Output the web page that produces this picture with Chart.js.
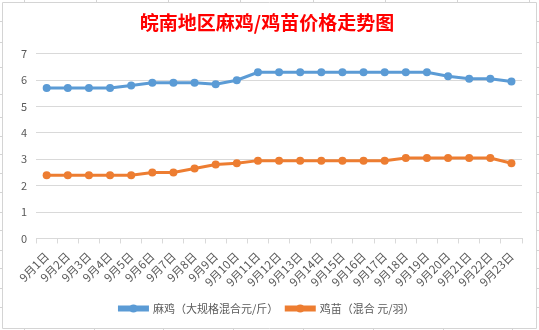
<!DOCTYPE html>
<html>
<head>
<meta charset="utf-8">
<script src="https://cdn.jsdelivr.net/npm/chart.js@4/dist/chart.umd.min.js"></script>
<style>
  html, body { margin: 0; padding: 0; background: #fff; }
  #wrap { width: 539px; height: 330px; position: relative; }
</style>
</head>
<body>
<div id="wrap"><canvas id="myChart" width="539" height="330"></canvas></div>
<script>
var days = ["9月1日", "9月2日", "9月3日", "9月4日", "9月5日", "9月6日", "9月7日", "9月8日",
  "9月9日", "9月10日", "9月11日", "9月12日", "9月13日", "9月14日", "9月15日", "9月16日",
  "9月17日", "9月18日", "9月19日", "9月20日", "9月21日", "9月22日", "9月23日"];
var maji = [5.7, 5.7, 5.7, 5.7, 5.8, 5.9, 5.9, 5.9, 5.85, 6.0, 6.3, 6.3, 6.3, 6.3, 6.3, 6.3,
  6.3, 6.3, 6.3, 6.15, 6.05, 6.05, 5.95];
var jimiao = [2.4, 2.4, 2.4, 2.4, 2.4, 2.5, 2.5, 2.65, 2.8, 2.85, 2.95, 2.95, 2.95, 2.95, 2.95,
  2.95, 2.95, 3.05, 3.05, 3.05, 3.05, 3.05, 2.85];
var yTicks = [0, 1, 2, 3, 4, 5, 6, 7];

var font = "'Noto Sans CJK SC', 'Microsoft YaHei', sans-serif";
var gray = "#595959";

// excel sheet cell borders around the chart
var sheetFrame = {
  id: "sheetFrame",
  afterDraw: function (chart) {
    var c = chart.ctx;
    c.save();
    c.strokeStyle = "#d4d4d4";
    c.lineWidth = 1;
    c.beginPath();
    c.rect(2.5, 2.5, 534, 326);
    [24, 96, 168, 240, 313, 385, 457, 529].forEach(function (x) {
      c.moveTo(x + 0.5, 0); c.lineTo(x + 0.5, 2);
    });
    [24, 94, 163, 233, 303, 373, 443, 512].forEach(function (x) {
      c.moveTo(x + 0.5, 329); c.lineTo(x + 0.5, 330);
    });
    [21, 42, 67, 94, 117, 136, 154, 173, 192, 212, 230, 250, 268, 288, 307].forEach(function (y) {
      c.moveTo(0, y + 0.5); c.lineTo(2, y + 0.5);
      c.moveTo(537, y + 0.5); c.lineTo(539, y + 0.5);
    });
    c.stroke();
    c.restore();
  }
};

// marker circle in the middle of each legend line
var legendMarkers = {
  id: "legendMarkers",
  afterDraw: function (chart) {
    var lg = chart.legend;
    if (!lg || !lg.legendHitBoxes) return;
    var c = chart.ctx;
    var boxW = lg.options.labels.boxWidth;
    c.save();
    lg.legendHitBoxes.forEach(function (hb, i) {
      var ds = chart.data.datasets[i];
      c.fillStyle = ds.borderColor;
      c.beginPath();
      c.arc(hb.left + boxW / 2, hb.top + hb.height / 2, 4, 0, Math.PI * 2);
      c.fill();
    });
    c.restore();
  }
};

var ctx = document.getElementById("myChart").getContext("2d");
var chart = new Chart(ctx, {
  type: "line",
  data: {
    labels: days,
    datasets: [
      {
        label: "麻鸡（大规格混合元/斤）",
        data: maji,
        borderColor: "#5B9BD5",
        backgroundColor: "#5B9BD5",
        borderWidth: 3,
        pointRadius: 4,
        pointBorderWidth: 0,
        fill: false,
        tension: 0
      },
      {
        label: "鸡苗（混合 元/羽）",
        data: jimiao,
        borderColor: "#ED7D31",
        backgroundColor: "#ED7D31",
        borderWidth: 3,
        pointRadius: 4,
        pointBorderWidth: 0,
        fill: false,
        tension: 0
      }
    ]
  },
  options: {
    responsive: false,
    animation: false,
    layout: { padding: { left: 12, right: 17, top: 0, bottom: 6 } },
    plugins: {
      title: {
        display: true,
        text: "皖南地区麻鸡/鸡苗价格走势图",
        color: "#FF0000",
        font: { family: font, size: 19, weight: "bold" },
        padding: { top: 11, bottom: 20 }
      },
      legend: {
        position: "bottom",
        labels: {
          color: gray,
          font: { family: font, size: 11 },
          boxWidth: 28,
          boxHeight: 3,
          padding: 8
        }
      },
      tooltip: { enabled: false }
    },
    scales: {
      x: {
        offset: true,
        grid: { display: true, drawOnChartArea: false, drawTicks: true, tickLength: 5, offset: true, color: "#d9d9d9" },
        border: { display: true, color: "#d9d9d9" },
        ticks: {
          autoSkip: false,
          maxRotation: 45,
          minRotation: 45,
          color: gray,
          font: { family: font, size: 11.5 },
          padding: 6
        }
      },
      y: {
        min: 0,
        max: 7,
        afterBuildTicks: function (axis) {
          axis.ticks = yTicks.map(function (v) { return { value: v }; });
        },
        grid: { color: "#d9d9d9", drawTicks: false },
        border: { display: false },
        ticks: {
          color: gray,
          font: { family: font, size: 11 },
          padding: 9
        }
      }
    }
  },
  plugins: [sheetFrame, legendMarkers]
});
</script>
</body>
</html>
